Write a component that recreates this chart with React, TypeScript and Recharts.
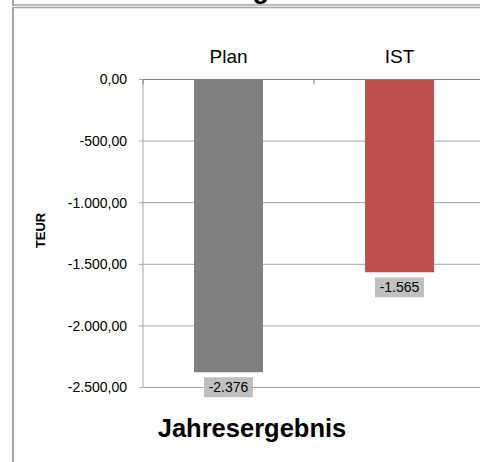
import React from 'react';
import { BarChart, Bar, XAxis, YAxis, CartesianGrid, Cell, LabelList } from 'recharts';

const categories = ['Plan', 'IST'];
const values = [-2376, -1565];
const barColors = ['#808080', '#C0504D'];
const yTicks = [0, -500, -1000, -1500, -2000, -2500];
const chartTitle = 'Jahresergebnis';
const yAxisTitle = 'TEUR';

const data = categories.map((name, i) => ({ name, value: values[i] }));

const FONT = '"Liberation Sans", Arial, Helvetica, sans-serif';

function fmtDE(n: number, decimals: number): string {
  const neg = n < 0;
  const fixed = Math.abs(n).toFixed(decimals);
  const [intPart, frac] = fixed.split('.');
  const intStr = intPart.replace(/\B(?=(\d{3})+(?!\d))/g, '.');
  return (neg ? '-' : '') + intStr + (frac ? ',' + frac : '');
}

const CategoryTick = (props: any) => {
  const { x, y, payload, index, visibleTicksCount, width } = props;
  const count = visibleTicksCount || categories.length;
  const off = payload && payload.offset ? payload.offset : width / count / 2;
  return (
    <g>
      <text x={x} y={y - 17} textAnchor="middle" fontSize={19} fontFamily={FONT} fill="#000">
        {payload.value}
      </text>
      <line x1={x - off} x2={x - off} y1={y} y2={y + 5} stroke="#808080" strokeWidth={1} />
      {index === count - 1 ? (
        <line x1={x + off} x2={x + off} y1={y} y2={y + 5} stroke="#808080" strokeWidth={1} />
      ) : null}
    </g>
  );
};

const ValueLabel = (props: any) => {
  const { x, y, width, height, value } = props;
  const bottom = Math.max(y, y + height);
  const cx = x + width / 2;
  return (
    <g>
      <rect x={cx - 24.5} y={bottom + 5} width={49} height={20} fill="#C0C0C0" />
      <text x={cx} y={bottom + 20} textAnchor="middle" fontSize={14} fontFamily={FONT} fill="#000">
        {fmtDE(value, 0)}
      </text>
    </g>
  );
};

const TeurLabel = (props: any) => {
  const { viewBox } = props;
  const cx = viewBox.x + 31;
  const cy = viewBox.y + viewBox.height / 2 - 3;
  return (
    <text
      x={cx}
      y={cy}
      transform={`rotate(-90, ${cx}, ${cy})`}
      textAnchor="middle"
      fontSize={13}
      fontWeight="bold"
      fontFamily={FONT}
      fill="#000"
    >
      {yAxisTitle}
    </text>
  );
};

export default function App() {
  return (
    <div
      style={{
        position: 'absolute',
        left: 0,
        top: 0,
        width: 480,
        height: 462,
        overflow: 'hidden',
        background: '#fff',
      }}
    >
      <BarChart
        width={490}
        height={462}
        data={data}
        margin={{ top: 39.5, right: 5, bottom: 74.5, left: 14 }}
        style={{ fontFamily: FONT }}
      >
        <CartesianGrid vertical={false} stroke="#A6A6A6" />
        <XAxis
          dataKey="name"
          orientation="top"
          height={40}
          tickLine={false}
          tickSize={0}
          tickMargin={0}
          axisLine={{ stroke: '#808080', strokeWidth: 1 }}
          tick={<CategoryTick />}
          interval={0}
        />
        <YAxis
          width={129}
          domain={[-2500, 0]}
          ticks={yTicks}
          interval={0}
          tickSize={4}
          tickMargin={12}
          tickLine={{ stroke: '#A6A6A6' }}
          axisLine={{ stroke: '#A6A6A6' }}
          tick={{ fontSize: 14, fill: '#000', fontFamily: FONT }}
          tickFormatter={(v: number) => fmtDE(v, 2)}
          label={{ value: yAxisTitle, content: <TeurLabel /> }}
        />
        <Bar dataKey="value" barSize={69} isAnimationActive={false}>
          {data.map((d, i) => (
            <Cell key={d.name} fill={barColors[i]} />
          ))}
          <LabelList dataKey="value" content={<ValueLabel />} />
        </Bar>
      </BarChart>
      <svg
        width={480}
        height={462}
        style={{ position: 'absolute', left: 0, top: 0, pointerEvents: 'none' }}
      >
        <text x={140} y={-2} fontSize={27} fontWeight="bold" fontFamily={FONT} fill="#000">
          {chartTitle}
        </text>
        <line x1={13} x2={13} y1={0} y2={6} stroke="#A6A6A6" strokeWidth={2} />
        <line x1={13} x2={480} y1={5} y2={5} stroke="#A6A6A6" strokeWidth={1.5} />
        <line x1={13} x2={480} y1={7.5} y2={7.5} stroke="#A6A6A6" strokeWidth={1.5} />
        <line x1={13} x2={13} y1={7} y2={462} stroke="#A6A6A6" strokeWidth={2} />
        <text
          x={252}
          y={437}
          textAnchor="middle"
          fontSize={25.5}
          fontWeight="bold"
          fontFamily={FONT}
          fill="#000"
        >
          {chartTitle}
        </text>
      </svg>
    </div>
  );
}
